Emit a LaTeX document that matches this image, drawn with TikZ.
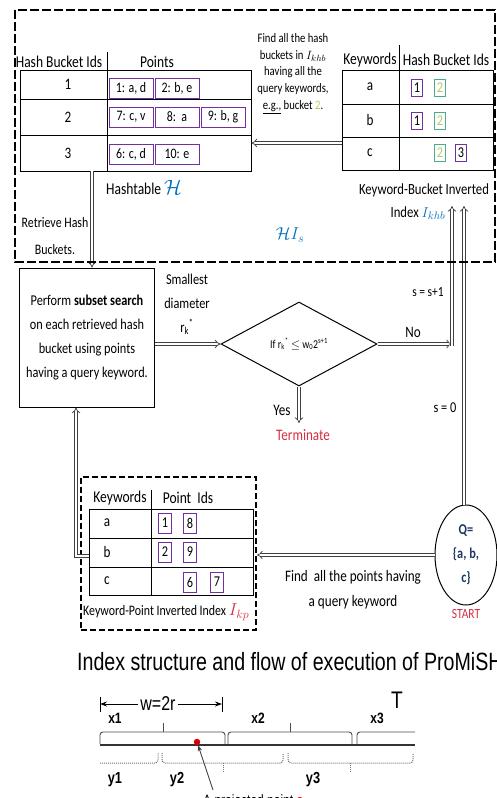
\documentclass[tikz,border=0pt]{standalone}
\usepackage{fontspec}
\setmainfont{Carlito}[FakeStretch=0.82]
\newfontfamily\narrowsans{Liberation Sans}[FakeStretch=0.8]
\newfontfamily\captionsans{Liberation Sans}[FakeStretch=0.785]
\usetikzlibrary{arrows.meta,shapes.geometric}

\definecolor{cellpurple}{RGB}{112,48,160}
\definecolor{cellgreen}{RGB}{70,175,135}
\definecolor{paleolive}{RGB}{185,200,100}
\definecolor{indexblue}{RGB}{0,112,192}
\definecolor{alertred}{RGB}{215,45,65}
\definecolor{querynavy}{RGB}{31,56,100}

\newcommand{\fsz}[2]{\fontsize{#1}{#2}\selectfont}

\tikzset{
  frame/.style={draw=black, line width=2.6pt, dash pattern=on 9pt off 3pt},
  kpframe/.style={draw=black, line width=2pt, dash pattern=on 6pt off 3pt},
  tbl/.style={draw=black, line width=0.9pt},
  txt/.style={inner sep=0pt, font=\fsz{16}{18}},
  pcell/.style={draw=cellpurple, line width=0.9pt, minimum width=44pt, minimum height=20pt, inner sep=0pt, font=\fsz{14.5}{16}},
  idbox/.style={draw=cellpurple, line width=0.9pt, minimum width=13pt, minimum height=20pt, inner sep=0pt, font=\fsz{15}{16}},
  kbbox/.style={idbox, minimum width=11pt, minimum height=17pt},
  flow/.style={draw=black!75, line width=0.7pt, double=white, double distance=2.2pt, -{Implies}},
  brace/.style={draw=black!70, line width=0.9pt, rounded corners=3pt},
  dbrace/.style={draw=black!55, line width=1pt, densely dotted, rounded corners=3pt},
  lbl/.style={inner sep=0pt, font=\narrowsans\bfseries\fsz{15}{17}},
}

\begin{document}
\begin{tikzpicture}[x=1pt,y=-1pt]
\useasboundingbox[fill=white] (0,0) rectangle (497,798);

% ---------- hashtable H ----------
\node[tbl, minimum width=231pt, minimum height=101pt, inner sep=0pt] (ht) at (135.5,120.5) {};
\draw[tbl] (20,99) -- (251,99) (20,135) -- (251,135) (107,52) -- (107,171);
\node[txt, font=\fsz{16.5}{18}] (ht-h1) at (59,62) {Hash Bucket Ids};
\node[txt, font=\fsz{16.5}{18}] (ht-h2) at (157,62) {Points};
\node[txt] (ht-r1) at (68,84.5) {1};
\node[txt] (ht-r2) at (68,117) {2};
\node[txt] (ht-r3) at (68,153) {3};
\node[pcell] (c11) at (131,88) {1: a, d};
\node[pcell] (c12) at (177,88) {2: b, e};
\node[pcell] (c21) at (131,117) {7: c, v};
\node[pcell] (c22) at (177,117) {8:\ \ a};
\node[pcell] (c23) at (223,117) {9: b, g};
\node[pcell] (c31) at (131,154) {6: c, d};
\node[pcell] (c32) at (177,154) {10: e};
\node[txt, anchor=west, font=\fsz{16.5}{18}] (ht-name) at (106,187) {Hashtable \textcolor{indexblue}{\fsz{20}{20}$\mathcal{H}$}};

% ---------- keyword-bucket inverted index ----------
\node[tbl, minimum width=151pt, minimum height=100pt, inner sep=0pt] (kb) at (417.5,120) {};
\draw[tbl] (342,104) -- (493,104) (342,137) -- (493,137) (399,45) -- (399,170);
\node[txt, font=\fsz{16.5}{18}] (kb-h1) at (370,60) {Keywords};
\node[txt, font=\fsz{16.5}{18}] (kb-h2) at (446,60) {Hash Bucket Ids};
\node[txt] (kb-a) at (370,87) {a};
\node[txt] (kb-b) at (370,120) {b};
\node[txt] (kb-c) at (370,153) {c};
\node[kbbox] (kb-a1) at (417,88) {1};
\node[kbbox, draw=cellgreen, text=paleolive] (kb-a2) at (440,88) {2};
\node[kbbox] (kb-b1) at (417,121) {1};
\node[kbbox, draw=cellgreen, text=paleolive] (kb-b2) at (440,121) {2};
\node[kbbox, draw=cellgreen, text=paleolive] (kb-c2) at (440,153) {2};
\node[kbbox] (kb-c3) at (461,153) {3};
\node[txt, font=\fsz{15.5}{18}] (kb-name1) at (424,190) {Keyword-Bucket Inverted};
\node[txt, font=\fsz{15.5}{18}] (kb-name2) at (418,213) {Index \textcolor{indexblue}{$I_{khb}$}};

\node[txt, align=center, font=\fsz{13}{16.75}] (findhb) at (293,73.5)
  {Find all the hash\\buckets in $I_{khb}$\\having\ all the\\query keywords,\\\underline{e.g.,} bucket \textcolor{paleolive}{2}.};
\draw[flow] (kb.west |- 0,143) -- (ht.east |- 0,143);

\node[txt, align=center, font=\fsz{14.5}{27}] (retr) at (55,236) {Retrieve Hash\\Buckets.};
\node[txt, text=indexblue, font=\fsz{18}{20}] (his) at (290,235) {$\mathcal{H}I_s$};

% ---------- search loop ----------
\node[draw=black, line width=1pt, minimum width=135pt, minimum height=139pt, inner sep=0pt,
      align=center, font=\fsz{15}{24}] (ps) at (87,337.5)
  {Perform \textbf{subset search}\\on each retrieved hash\\bucket using points\\having a query keyword.};
\draw[flow] (ht.south -| 92,0) -- (ps.north -| 92,0);

\node[txt, align=center, font=\fsz{15}{24}] (sd) at (187,304) {Smallest\\diameter\\r\textsubscript{k}\textsuperscript{*}};
\node[diamond, draw=black, line width=1pt, minimum width=156pt, minimum height=84pt, inner sep=0pt,
      font=\fsz{12}{14}] (dm) at (299,344) {If r\textsubscript{k}\textsuperscript{*} $\le$ w\textsubscript{0}2\textsuperscript{s+1}};
\draw[flow] (ps.east |- dm.west) -- (dm.west);

\coordinate (nocorner) at (452,344);
\coordinate (up1) at (452,206);
\coordinate (up2) at (464,206);
\draw[flow] (dm.east) -- (nocorner);
\draw[flow] (452,346) -- (up1);
\node[txt, font=\fsz{16}{18}] (no) at (413,332) {No};
\node[txt, font=\fsz{14}{16}] (sinc) at (428,292) {s = s+1};

\coordinate (yesend) at (299,423);
\draw[flow] (dm.south) -- (yesend);
\node[txt, font=\fsz{16}{18}] (yes) at (282,410) {Yes};
\node[txt, text=alertred, font=\fsz{16}{18}] (term) at (303,435) {Terminate};

% ---------- query ----------
\node[ellipse, draw=black, line width=1pt, minimum width=62pt, minimum height=100pt, inner sep=0pt,
      align=center, text=querynavy, font=\bfseries\fsz{15}{24}] (q) at (466,555) {Q=\\\{a, b,\\c\}};
\node[txt, text=alertred, font=\fsz{14}{16}] (start) at (466,614) {START};
\draw[flow] (up2 |- q.north) -- (up2);
\node[txt, font=\fsz{15}{16}] (s0) at (445,408) {s = 0};

% ---------- keyword-point inverted index ----------
\node[kpframe, minimum width=175pt, minimum height=153pt] (kpbox) at (168.5,553.5) {};
\node[tbl, minimum width=164pt, minimum height=86pt, inner sep=0pt] (kpt) at (171,552) {};
\draw[tbl] (89,538) -- (253,538) (89,567) -- (253,567) (151,490) -- (151,595);
\node[txt, font=\fsz{16.5}{18}] (kp-h1) at (120,498) {Keywords};
\node[txt, font=\fsz{16.5}{18}] (kp-h2) at (188,498) {Point\ \ Ids};
\node[txt] (kp-a) at (107,523) {a};
\node[txt] (kp-b) at (107,552) {b};
\node[txt] (kp-c) at (107,581) {c};
\node[idbox] (kp-a1) at (165,523) {1};
\node[idbox] (kp-a8) at (190,523) {8};
\node[idbox] (kp-b2) at (165,552) {2};
\node[idbox] (kp-b9) at (190,552) {9};
\node[idbox] (kp-c6) at (190,582) {6};
\node[idbox] (kp-c7) at (217,582) {7};
\node[txt, anchor=west, font=\fsz{14.5}{16}] (kpname) at (83,612) {Keyword-Point Inverted Index \textcolor{alertred}{\fsz{18}{18}$I_{kp}$}};

\draw[flow] (q.west) -- (kpbox.east |- q.west);
\node[txt, align=center, font=\fsz{16}{25}] (findpts) at (353,590) {Find\ \ all the points having\\a query keyword};
\draw[flow] (kpt.west |- 0,556) -| ([xshift=-11pt]ps.south);

% ---------- index structure frame ----------
\draw[frame] (15,10) rectangle (495,262);

% ---------- caption ----------
\node[anchor=base west, inner sep=0pt, font=\captionsans\fsz{25}{28}] (caption) at (77,670)
  {Index structure and flow of execution of ProMiSH};

% ---------- projection onto the line ----------
\coordinate (wl) at (100,704);
\coordinate (wr) at (222,704);
\draw[line width=1pt] (100,697) -- (100,712) (222,697) -- (222,712);
\node[inner sep=0pt, font=\narrowsans\fsz{20}{22}] (wtxt) at (158,704) {w=2r};
\draw[line width=0.9pt, -{Stealth[length=7pt,width=5pt]}] ([xshift=-2pt]wtxt.west) -- (wl);
\draw[line width=0.9pt, -{Stealth[length=7pt,width=5pt]}] ([xshift=2pt]wtxt.east) -- (wr);
\node[inner sep=0pt, font=\narrowsans\fsz{24}{26}] (tlabel) at (397,700) {T};

\node[lbl] (x1) at (115,718) {x1};
\node[lbl] (x2) at (258,718) {x2};
\node[lbl] (x3) at (377,718) {x3};

\draw[brace] (100,744) -- (100,732) -- (225,732) -- (225,744);
\draw[brace] (163,732) -- (163,723);
\draw[brace] (228,744) -- (228,732) -- (352,732) -- (352,744);
\draw[brace] (290,732) -- (290,723);
\draw[brace] (357,744) -- (357,732) -- (415,732);

\draw[line width=2.4pt, black!80] (100,745) -- (415,745);

\draw[dbrace] (100,763) -- (158,763) -- (158,753);
\draw[dbrace] (162,753) -- (162,763) -- (283,763) -- (283,753);
\draw[dbrace] (223,763) -- (223,773);
\draw[dbrace] (288,753) -- (288,763) -- (413,763) -- (413,753);
\draw[dbrace] (350,763) -- (350,773);

\node[lbl, font=\narrowsans\bfseries\fsz{16}{18}] (y1) at (115,780) {y1};
\node[lbl, font=\narrowsans\bfseries\fsz{16}{18}] (y2) at (177,780) {y2};
\node[lbl, font=\narrowsans\bfseries\fsz{16}{18}] (y3) at (313,780) {y3};

\node[circle, fill=red!85!black, minimum size=6.5pt, inner sep=0pt] (pdot) at (197,742) {};
\node[anchor=base west, inner sep=0pt, font=\narrowsans\fsz{15}{17}] (ptxt) at (203,805) {A projected point \textcolor{red}{o}};
\draw[black!75, line width=0.9pt, -{Stealth[length=6pt]}] ([xshift=10pt,yshift=4pt]ptxt.north west) -- (pdot);
\end{tikzpicture}
\end{document}
